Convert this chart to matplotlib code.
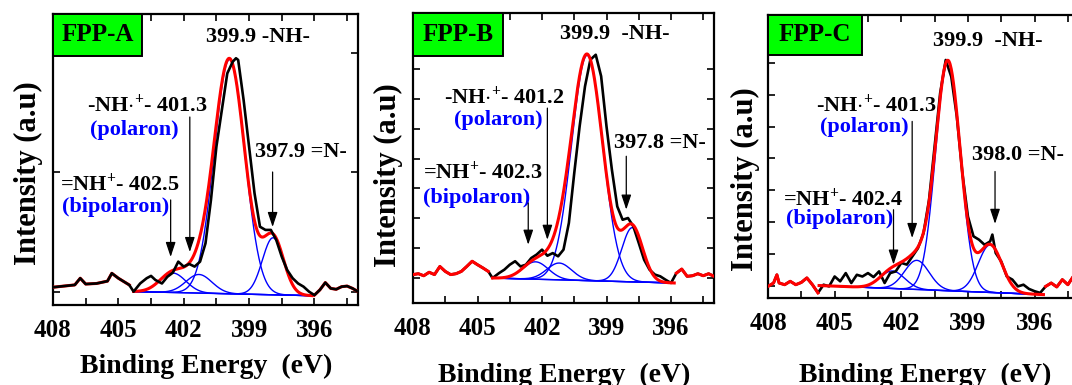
import numpy as np
import matplotlib.pyplot as plt
from matplotlib.patches import Rectangle
from matplotlib.ticker import MultipleLocator

plt.rcParams['font.family'] = ['Liberation Serif', 'DejaVu Serif']
plt.rcParams['font.weight'] = 'bold'
plt.rcParams['mathtext.fontset'] = 'custom'
plt.rcParams['mathtext.rm'] = 'Liberation Serif:bold'
plt.rcParams['mathtext.it'] = 'Liberation Serif:bold'
plt.rcParams['mathtext.bf'] = 'Liberation Serif:bold'

# N1s spectra, binding energy (eV) and intensity (a.u.)
A_ev = [408.0, 407.5, 407.0, 406.75, 406.5, 406.0, 405.5, 405.3, 405.0, 404.5, 404.3,
        404.0, 403.7, 403.5, 403.3, 403.0, 402.75, 402.5, 402.25, 402.0, 401.75, 401.5,
        401.25, 401.0, 400.75, 400.5, 400.25, 400.0, 399.75, 399.6, 399.5, 399.25, 399.0,
        398.75, 398.5, 398.25, 398.0, 397.75, 397.5, 397.25, 397.0, 396.75, 396.5, 396.25,
        396.0, 395.75, 395.5, 395.25, 395.0, 394.75, 394.5, 394.25, 394.0]
A_int = [6.1, 6.5, 6.9, 9.2, 7.2, 7.4, 8.2, 10.9, 9.2, 6.9, 4.6,
         7.4, 9.2, 10.0, 8.6, 7.4, 9.7, 11.1, 14.9, 13.2, 14.1, 13.2,
         14.9, 21.2, 36.1, 54.4, 67.0, 79.6, 83.6, 84.8, 84.2, 70.4, 54.4,
         38.4, 26.9, 25.8, 25.8, 22.3, 16.6, 12.0, 9.2, 7.4, 6.3, 4.6,
         3.4, 5.2, 7.7, 5.7, 5.4, 6.3, 6.5, 5.7, 4.6]

B_ev = [408.0, 407.75, 407.5, 407.25, 407.0, 406.75, 406.5, 406.25, 406.0, 405.75, 405.5,
        405.25, 405.0, 404.75, 404.5, 404.3, 404.0, 403.75, 403.5, 403.25, 403.0, 402.75,
        402.5, 402.25, 402.0, 401.75, 401.5, 401.25, 401.0, 400.75, 400.5, 400.25, 400.0,
        399.75, 399.5, 399.25, 399.0, 398.75, 398.5, 398.25, 398.0, 397.75, 397.5, 397.25,
        397.0, 396.75, 396.5, 396.25, 396.0, 395.75, 395.5, 395.25, 395.0, 394.75, 394.5,
        394.25, 394.0]
B_int = [9.8, 10.1, 9.4, 10.6, 9.8, 12.6, 10.9, 9.8, 10.1, 10.9, 12.6,
         14.4, 13.2, 12.1, 10.9, 8.6, 10.3, 11.5, 13.2, 14.4, 12.6, 13.2,
         15.5, 16.7, 18.4, 16.3, 17.2, 16.1, 18.4, 27.6, 44.8, 60.9, 74.7,
         83.9, 85.6, 78.2, 60.9, 46.0, 33.3, 28.7, 29.3, 26.4, 20.7, 14.9,
         11.5, 9.8, 9.2, 8.0, 6.9, 10.3, 11.7, 9.2, 9.4, 10.1, 9.4,
         10.1, 9.2]

C_ev = [408.0, 407.75, 407.6, 407.5, 407.25, 407.0, 406.75, 406.5, 406.25, 406.0, 405.75,
        405.5, 405.25, 405.0, 404.75, 404.5, 404.25, 404.0, 403.75, 403.5, 403.25, 403.0,
        402.75, 402.5, 402.25, 402.0, 401.75, 401.5, 401.25, 401.0, 400.75, 400.5, 400.25,
        400.0, 399.75, 399.5, 399.25, 399.0, 398.75, 398.5, 398.25, 398.0, 397.9, 397.75,
        397.5, 397.25, 397.0, 396.75, 396.5, 396.25, 396.0, 395.75, 395.5, 395.25, 395.0,
        394.75, 394.5, 394.3]
C_int = [4.1, 5.3, 8.2, 5.3, 4.7, 5.9, 4.7, 5.5, 7.1, 4.7, 1.8,
         4.7, 4.1, 7.6, 5.9, 8.8, 5.3, 8.2, 7.6, 8.8, 7.4, 9.4,
         5.3, 8.8, 9.4, 12.4, 11.8, 14.7, 17.6, 22.9, 34.7, 53.5, 72.4,
         84.1, 78.2, 64.1, 44.1, 28.8, 21.8, 20.6, 18.8, 20.0, 22.4, 15.9,
         12.9, 7.6, 6.5, 4.1, 4.7, 3.2, 2.4, 1.8, 4.1, 5.3, 3.9,
         6.5, 4.7, 7.1]

# fitted components: bipolaron, polaron, -NH-, =N-
A_centers = [402.5, 401.3, 399.9, 397.9]
A_heights = [6.7, 6.4, 80.5, 19.6]
A_fwhm = [1.4, 1.4, 1.65, 1.15]
A_fit = (404.3, 396.1, 4.6, 3.2)     # fit window and background ends

B_centers = [402.3, 401.2, 399.9, 397.8]
B_heights = [6.0, 5.8, 77.7, 18.7]
B_fwhm = [1.4, 1.35, 1.7, 1.15]
B_fit = (404.3, 395.85, 8.6, 6.9)

C_centers = [402.4, 401.3, 399.9, 398.0]
C_heights = [6.2, 10.3, 81.0, 16.8]
C_fwhm = [1.3, 1.3, 1.3, 1.25]
C_fit = (405.7, 395.6, 4.4, 1.2)

names = ['FPP-A', 'FPP-B', 'FPP-C']


def peak_labels(c, sep):
    return ['%.1f%s-NH-' % (c[2], sep),
            r'-NH$\cdot^{+}$- %.1f' % c[1],
            '%.1f =N-' % c[3],
            r'=NH$^{+}$- %.1f' % c[0]]


panels = [
    dict(ev=A_ev, y=A_int, c=A_centers, h=A_heights, w=A_fwhm, fit=A_fit, name=names[0],
         rect=[53/1072, 80/385, 305/1072, 291/385], box=(0.292, 0.144), red_top=False,
         ylab=(28, 173), xlab=(206, 366), yt=(4.6, 41.0), sep=' ',
         txt=[(398.6, 92.1), (403.65, 68.7), (396.6, 52.6), (404.93, 41.6)],
         blue=[(404.29, 60.1), (405.11, 33.6)],
         arrows=[(402.6, 36.1, 16.5), (401.72, 64.6, 18.2), (397.92, 45.7, 26.8)]),
    dict(ev=B_ev, y=B_int, c=B_centers, h=B_heights, w=B_fwhm, fit=B_fit, name=names[1],
         rect=[413/1072, 82/385, 301/1072, 290/385], box=(0.299, 0.148), red_top=True,
         ylab=(388, 175), xlab=(564, 375), yt=(8.6, 10.3), sep='  ',
         txt=[(398.63, 92.9), (403.74, 71.0), (396.51, 55.2), (404.73, 45.2)],
         blue=[(404.03, 63.2), (405.03, 36.2)],
         arrows=[(402.64, 34.5, 20.1), (401.75, 67.2, 21.8), (398.08, 50.6, 32.2)]),
    dict(ev=C_ev, y=C_int, c=C_centers, h=C_heights, w=C_fwhm, fit=C_fit, name=names[2],
         rect=[768/1072, 87/385, 311/1072, 283/385], box=(0.303, 0.141), red_top=True,
         ylab=(745, 179), xlab=(925, 375), yt=(4.1, 11.3), sep='  ',
         txt=[(398.1, 90.9), (403.1, 68.2), (396.76, 50.6), (404.61, 35.0)],
         blue=[(403.65, 60.4), (404.76, 27.8)],
         arrows=[(402.35, 31.2, 11.8), (401.51, 62.4, 21.2), (397.78, 44.7, 26.2)]),
]

fig = plt.figure(figsize=(10.72, 3.85), dpi=100)

for p in panels:
    ax = fig.add_axes(p['rect'])
    ev = np.array(p['ev'])
    y = np.array(p['y'])
    lo, hi, b0, b1 = p['fit']

    # background line and gaussian components over the fit window
    x = np.linspace(lo, hi, 400)
    base = b0 + (b1 - b0) * (lo - x) / (lo - hi)
    total = base.copy()
    for c, h, w in zip(p['c'], p['h'], p['w']):
        g = h * np.exp(-4 * np.log(2) * (x - c) ** 2 / w ** 2)
        total += g
        ax.plot(x, base + g, color='blue', lw=1.0, zorder=2)
    ax.plot(x, base, color='blue', lw=1.0, zorder=2)

    # envelope inside the window, raw counts outside it
    left = ev > lo
    right = ev < hi
    zr = 4 if p['red_top'] else 3
    zk = 3 if p['red_top'] else 4
    ax.plot(x, total, color='red', lw=2.2, zorder=zr)
    ax.plot(ev[left], y[left], color='red', lw=2.2, zorder=zr)
    ax.plot(ev[right], y[right], color='red', lw=2.2, zorder=zr)
    ax.plot(ev, y, color='black', lw=1.9, zorder=zk)

    ax.set_xlim(408, 394)
    ax.set_ylim(0, 100)
    ax.xaxis.set_major_locator(MultipleLocator(3))
    ax.xaxis.set_minor_locator(MultipleLocator(1.5))
    ax.set_yticks(np.arange(p['yt'][0], 90, p['yt'][1]))
    ax.tick_params(which='both', direction='in', top=True, right=True,
                   length=5, width=1.2, labelleft=False, labelsize=18, pad=10)
    for lab in ax.get_xticklabels():
        lab.set_fontweight('bold')
    for s in ax.spines.values():
        s.set_linewidth(1.6)

    bw, bh = p['box']
    ax.add_patch(Rectangle((0, 1 - bh), bw, bh, transform=ax.transAxes,
                           facecolor='#00ff00', edgecolor='black', lw=1.4, zorder=6))
    ax.text(bw / 2, 1 - bh / 2, p['name'], transform=ax.transAxes, ha='center',
            va='center', fontsize=18, fontweight='bold', zorder=7)

    for (tx, ty), s in zip(p['txt'], peak_labels(p['c'], p['sep'])):
        ax.text(tx, ty, s, ha='center', va='center', fontsize=16, fontweight='bold')
    for (tx, ty), s in zip(p['blue'], ['(polaron)', '(bipolaron)']):
        ax.text(tx, ty, s, ha='center', va='center', fontsize=16, fontweight='bold',
                color='blue')
    for ax_x, y0, y1 in p['arrows']:
        ax.annotate('', xy=(ax_x, y1), xytext=(ax_x, y0),
                    arrowprops=dict(arrowstyle='-|>,head_length=0.9,head_width=0.3',
                                    color='black', lw=0.9, shrinkA=0, shrinkB=0))

    fig.text(p['ylab'][0] / 1072, 1 - p['ylab'][1] / 385, 'Intensity (a.u)',
             rotation=90, ha='center', va='center', fontsize=22, fontweight='bold')
    fig.text(p['xlab'][0] / 1072, 1 - p['xlab'][1] / 385, 'Binding Energy  (eV)',
             ha='center', va='center', fontsize=20, fontweight='bold')

fig.savefig('out.png', dpi=100)
